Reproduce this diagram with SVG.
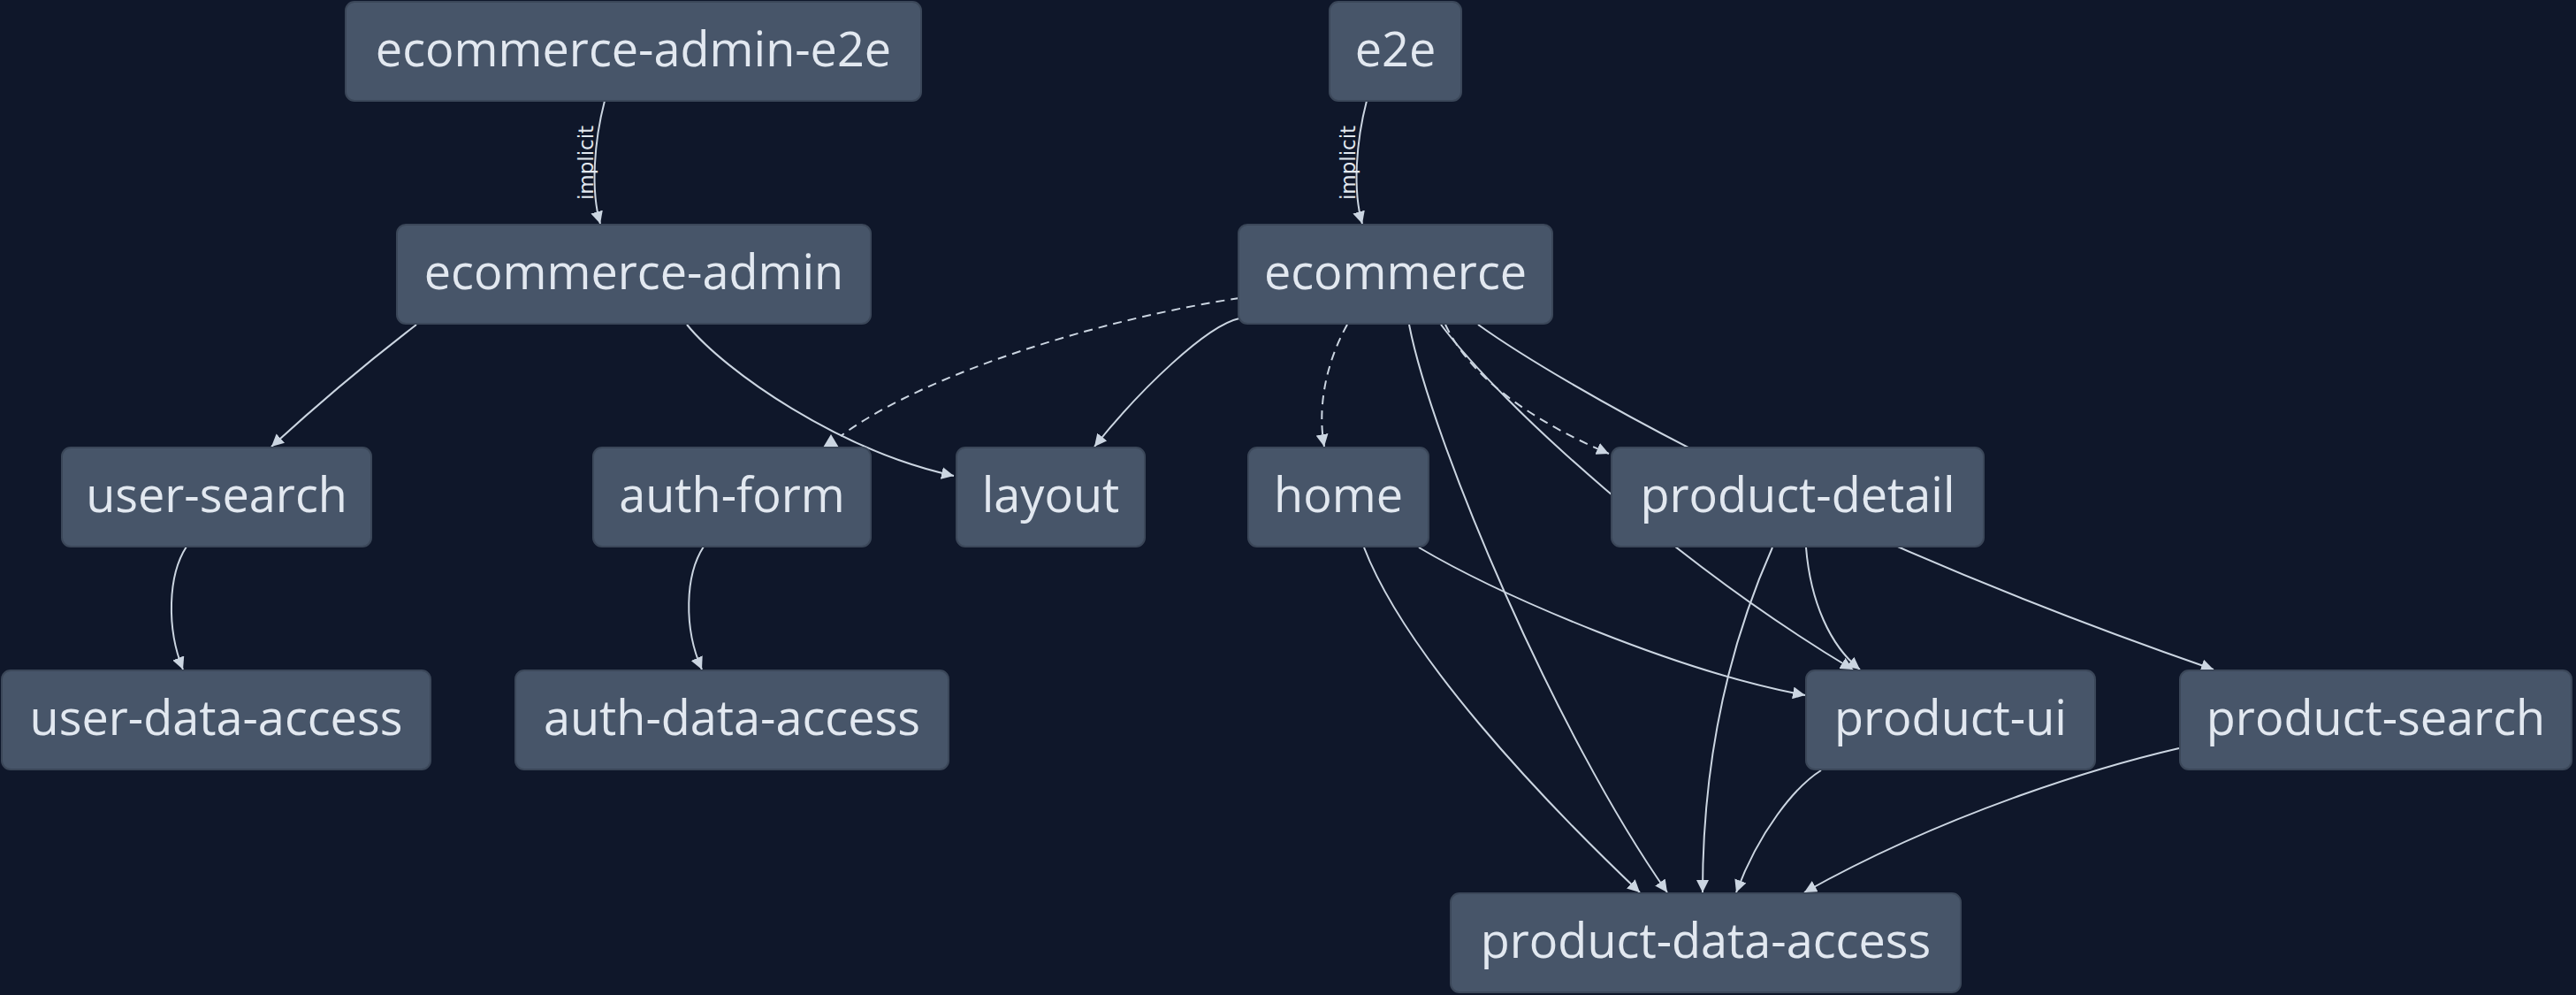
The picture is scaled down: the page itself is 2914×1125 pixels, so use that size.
<svg xmlns="http://www.w3.org/2000/svg" width="2914" height="1125" viewBox="0 0 2914 1125">
  <style>
    .node rect { fill: #475569; stroke: #3b4759; stroke-width: 2; }
    .node text { fill: #e2e8f0; font-family: "Open Sans", "Noto Sans", "Liberation Sans", sans-serif; font-size: 54px; text-anchor: middle; }
    .edge { fill: none; stroke: #cbd5e1; stroke-width: 2; }
    .dashed { stroke-dasharray: 10 7; }
    .arrow { marker-end: url(#arrowhead); }
    .elabel { fill: #e2e8f0; font-family: "DejaVu Sans", "Liberation Sans", sans-serif; font-size: 23px; text-anchor: middle; }
    .head { fill: #cbd5e1; }
  </style>
  <defs>
    <marker id="arrowhead" viewBox="0 0 14 14" refX="14" refY="7" markerWidth="14" markerHeight="14" markerUnits="userSpaceOnUse" orient="auto">
      <path d="M0,0 L14,7 L0,14 z" fill="#cbd5e1"/>
    </marker>
  </defs>
  <rect x="0" y="0" width="2914" height="1125" fill="#0f172a"/>

  <g id="connectors">
    <!-- implicit edges -->
    <path class="edge arrow" d="M684,114 C672,160 668,215 679,253"/>
    <text class="elabel" transform="translate(671,184) rotate(-90)">implicit</text>
    <path class="edge arrow" d="M1546,114 C1534,160 1530,215 1541,253"/>
    <text class="elabel" transform="translate(1533,184) rotate(-90)">implicit</text>

    <!-- ecommerce-admin -->
    <path class="edge arrow" d="M471,367 C455,380 400,420 307,505"/>
    <path class="edge arrow" d="M777,367 C820,420 950,510 1079,538"/>

    <!-- ecommerce -->
    <path class="edge dashed" d="M1402,337 C1250,360 1050,420 951,493"/>
    <polygon class="head" points="940,491 931,506 949,506"/>
    <path class="edge arrow" d="M1402,360 C1365,368 1290,440 1238,505"/>
    <path class="edge dashed arrow" d="M1524,367 C1500,410 1490,460 1498,505"/>
    <path class="edge arrow" d="M1594,367 C1620,500 1760,830 1886,1009"/>
    <path class="edge arrow" d="M1630,367 C1700,460 1900,640 2096,757"/>
    <path class="edge dashed arrow" d="M1635,367 C1660,420 1720,470 1820,513"/>
    <path class="edge arrow" d="M1672,367 C1760,430 2050,600 2504,757"/>

    <!-- home -->
    <path class="edge arrow" d="M1605,619 C1700,675 1900,760 2042,786"/>
    <path class="edge arrow" d="M1543,619 C1590,740 1740,900 1855,1009"/>

    <!-- product-detail -->
    <path class="edge arrow" d="M2005,619 C1960,720 1926,850 1926,1009"/>
    <path class="edge arrow" d="M2043,619 C2048,680 2070,730 2104,757"/>

    <!-- product-ui / product-search -->
    <path class="edge arrow" d="M2060,871 C2030,890 1990,940 1964,1009"/>
    <path class="edge arrow" d="M2465,846 C2370,868 2200,920 2041,1009"/>

    <!-- left column -->
    <path class="edge arrow" d="M211,618 C190,650 188,710 207,757"/>
    <path class="edge arrow" d="M796,618 C775,650 773,710 794,757"/>
  </g>

  <g id="ecommerce-admin-e2e" class="node">
    <rect x="391" y="2" width="651" height="112" rx="10"/>
    <text x="716.5" y="75">ecommerce-admin-e2e</text>
  </g>
  <g id="e2e" class="node">
    <rect x="1504" y="2" width="149" height="112" rx="10"/>
    <text x="1578.5" y="75">e2e</text>
  </g>
  <g id="ecommerce-admin" class="node">
    <rect x="449" y="254" width="536" height="112" rx="10"/>
    <text x="717" y="327">ecommerce-admin</text>
  </g>
  <g id="ecommerce" class="node">
    <rect x="1401" y="254" width="355" height="112" rx="10"/>
    <text x="1578.5" y="327">ecommerce</text>
  </g>
  <g id="user-search" class="node">
    <rect x="70" y="506" width="350" height="112" rx="10"/>
    <text x="245" y="579">user-search</text>
  </g>
  <g id="auth-form" class="node">
    <rect x="671" y="506" width="314" height="112" rx="10"/>
    <text x="828" y="579">auth-form</text>
  </g>
  <g id="layout" class="node">
    <rect x="1082" y="506" width="213" height="112" rx="10"/>
    <text x="1188.5" y="579">layout</text>
  </g>
  <g id="home" class="node">
    <rect x="1412" y="506" width="204" height="112" rx="10"/>
    <text x="1514" y="579">home</text>
  </g>
  <g id="product-detail" class="node">
    <rect x="1823" y="506" width="421" height="112" rx="10"/>
    <text x="2033.5" y="579">product-detail</text>
  </g>
  <g id="user-data-access" class="node">
    <rect x="2" y="758" width="485" height="112" rx="10"/>
    <text x="244.5" y="831">user-data-access</text>
  </g>
  <g id="auth-data-access" class="node">
    <rect x="583" y="758" width="490" height="112" rx="10"/>
    <text x="828" y="831">auth-data-access</text>
  </g>
  <g id="product-ui" class="node">
    <rect x="2043" y="758" width="327" height="112" rx="10"/>
    <text x="2206.5" y="831">product-ui</text>
  </g>
  <g id="product-search" class="node">
    <rect x="2466" y="758" width="443" height="112" rx="10"/>
    <text x="2687.5" y="831">product-search</text>
  </g>
  <g id="product-data-access" class="node">
    <rect x="1641" y="1010" width="577" height="112" rx="10"/>
    <text x="1929.5" y="1083">product-data-access</text>
  </g>
</svg>
